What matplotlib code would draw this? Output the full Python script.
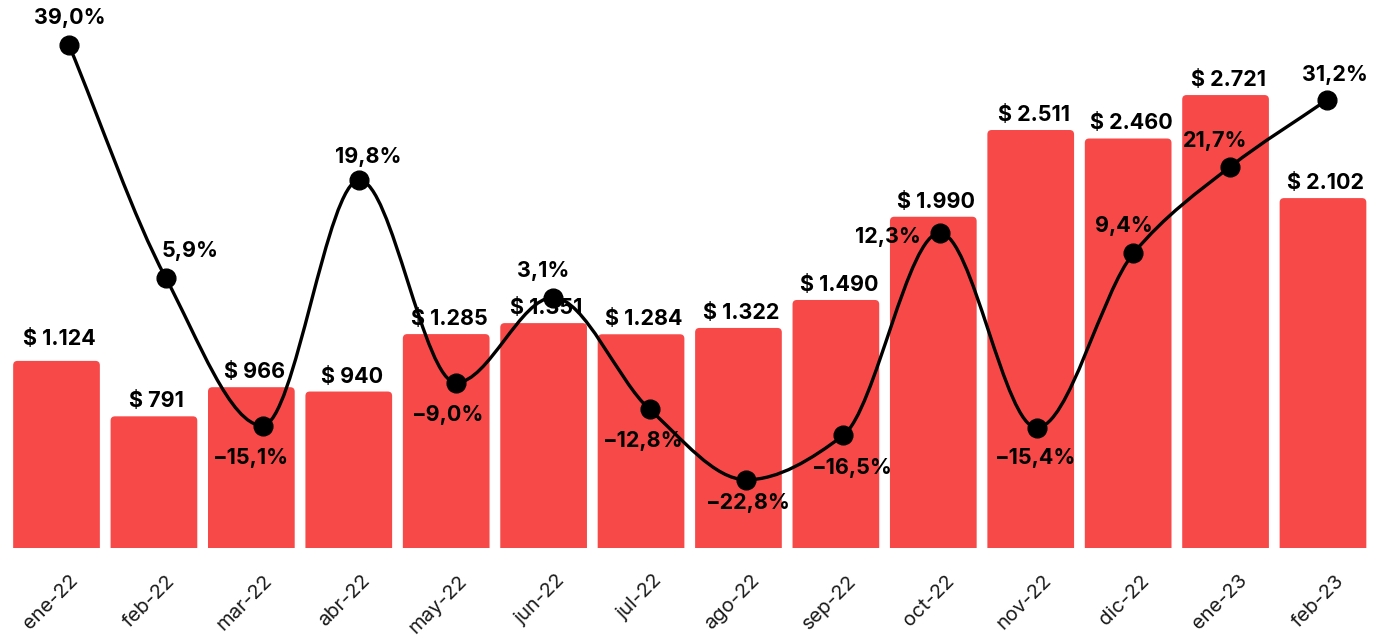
import numpy as np
import matplotlib
matplotlib.use("Agg")
import matplotlib.pyplot as plt
import matplotlib.transforms as mtrans
from matplotlib.patches import FancyBboxPatch, PathPatch
from matplotlib.path import Path

plt.rcParams['font.family'] = ['Inter', 'DejaVu Sans']

# Data
months = ["ene-22", "feb-22", "mar-22", "abr-22", "may-22", "jun-22", "jul-22",
          "ago-22", "sep-22", "oct-22", "nov-22", "dic-22", "ene-23", "feb-23"]
amounts = [1124, 791, 966, 940, 1285, 1351, 1284, 1322, 1490, 1990, 2511, 2460, 2721, 2102]
growth = [39.0, 5.9, -15.1, 19.8, -9.0, 3.1, -12.8, -22.8, -16.5, 12.3, -15.4, 9.4, 21.7, 31.2]

# label offsets for the percent labels (pixels, y up)
pct_offsets = [(1, 27), (24, 27), (-12, -32), (9, 23), (-9, -32), (-10, 27), (-7, -32),
               (1, -23), (8, -33), (-52, -4), (-2, -30), (-10, 27), (-15, 26), (8, 25)]

W, H = 1382, 641
fig = plt.figure(figsize=(W / 100, H / 100), dpi=100)

bar_color = '#F84949'
x = np.arange(len(months))

# bars axes
ax = fig.add_axes([7.8 / W, 93 / H, (1371.7 - 7.8) / W, 548 / H])
ax.set_xlim(-0.5, len(months) - 0.5)
ax.set_ylim(0, 3292)
bw = 0.89
for xi, v in zip(x, amounts):
    p = FancyBboxPatch((xi - bw / 2, -200), bw, v + 200,
                       boxstyle="round,pad=0,rounding_size=0.045",
                       mutation_aspect=24 / 0.041, fc=bar_color, ec='none')
    ax.add_patch(p)
    dy = 22 if xi == 0 else 15
    ax.annotate(f"$ {v:,}".replace(",", "."), (xi, v), xytext=(3, dy),
                textcoords='offset pixels', ha='center', va='center',
                fontsize=15.5, fontweight='bold', color='black')

ax.set_xticks(x)
ax.set_xticklabels(months, rotation=45, ha='right', rotation_mode='anchor',
                   fontsize=14.5, color='#1a1a1a')
ax.tick_params(axis='x', length=0, pad=17)
off = mtrans.ScaledTranslation(12 / 100, 0, fig.dpi_scale_trans)
for lab in ax.get_xticklabels():
    lab.set_transform(lab.get_transform() + off)
ax.set_yticks([])
for s in ax.spines.values():
    s.set_visible(False)

# line axes
ax2 = fig.add_axes([20.6 / W, 93 / H, (1375.4 - 20.6) / W, 548 / H])
ax2.set_xlim(-0.5, len(months) - 0.5)
ax2.set_ylim(-32.5, 45.4)
ax2.axis('off')
ax2.patch.set_alpha(0)

# monotone cubic (Fritsch-Carlson) bezier through the points
y = np.array(growth)
d = np.diff(y)
m = np.zeros_like(y)
m[0], m[-1] = d[0], d[-1]
for i in range(1, len(y) - 1):
    if d[i - 1] * d[i] <= 0:
        m[i] = 0
    else:
        m[i] = 2 / (1 / d[i - 1] + 1 / d[i])
verts = [(x[0], y[0])]
codes = [Path.MOVETO]
for i in range(len(y) - 1):
    verts += [(x[i] + 1 / 3, y[i] + m[i] / 3),
              (x[i + 1] - 1 / 3, y[i + 1] - m[i + 1] / 3),
              (x[i + 1], y[i + 1])]
    codes += [Path.CURVE4] * 3
ax2.add_patch(PathPatch(Path(verts, codes), fc='none', ec='black', lw=2.4,
                        capstyle='round', joinstyle='round'))
ax2.plot(x, growth, 'o', color='black', ms=13.5, zorder=5)

for xi, g, (ox, oy) in zip(x, growth, pct_offsets):
    ax2.annotate(f"{g:.1f}%".replace(".", ",").replace("-", "\u2212"), (xi, g),
                 xytext=(ox, oy), textcoords='offset pixels', ha='center', va='center',
                 fontsize=15.5, fontweight='bold', color='black', zorder=6)

fig.savefig("out.png", dpi=100)
